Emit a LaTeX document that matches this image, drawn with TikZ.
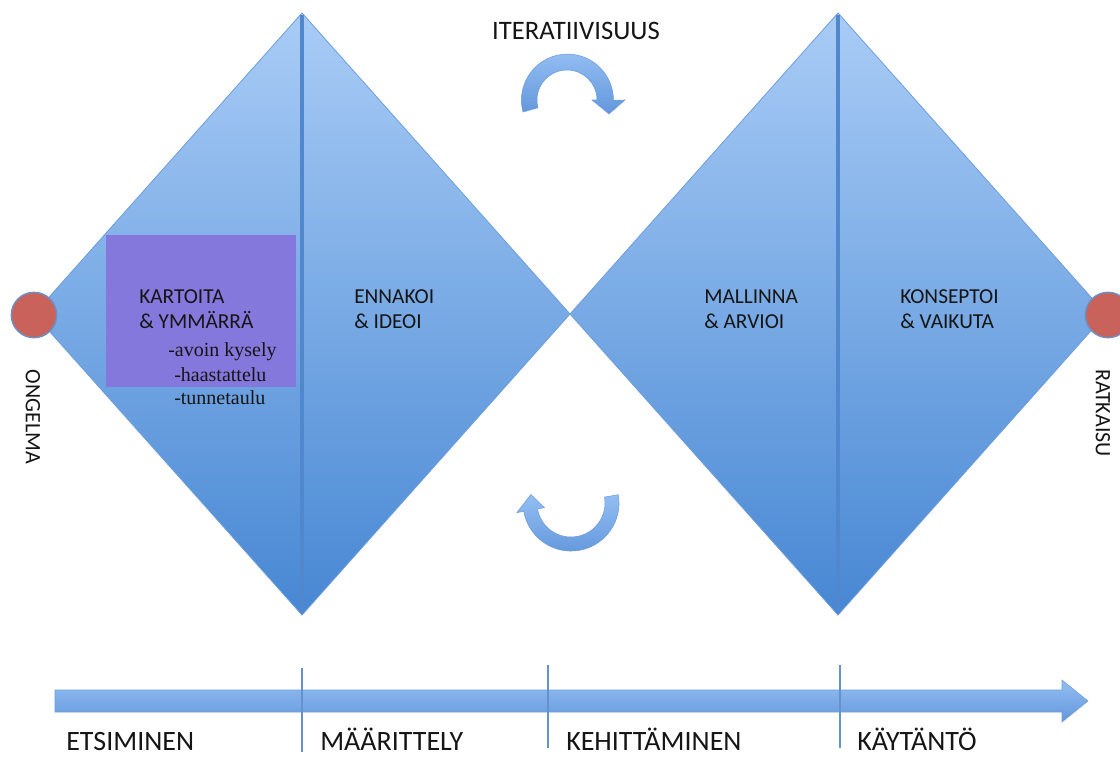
\documentclass[tikz,border=0pt]{standalone}
\usepackage{fontspec}
\setmainfont{Carlito}
\newfontfamily\listfont{Liberation Serif}
\definecolor{dtop}{HTML}{A9CCF6}
\definecolor{dbot}{HTML}{4787D3}
\definecolor{dedge}{HTML}{6E9EDB}
\definecolor{divider}{HTML}{5188CD}
\definecolor{purplebox}{HTML}{8478DC}
\definecolor{dotred}{HTML}{C8625A}
\definecolor{dotedge}{HTML}{6D8FC4}
\definecolor{atop}{HTML}{93BEF2}
\definecolor{abot}{HTML}{6397DC}
\definecolor{tickc}{HTML}{6592CD}
\definecolor{ink}{HTML}{151515}
\tikzset{
  diamondfill/.style={top color=dtop, bottom color=dbot, draw=dedge, line width=0.6pt},
  divline/.style={draw=divider, line width=2.3pt},
  dot/.style={circle, fill=dotred, draw=dotedge, line width=1.1pt, minimum size=34pt, inner sep=0pt},
  phase/.style={anchor=west, align=left, inner sep=0pt, text=ink, font=\fontsize{16}{18.75}\selectfont},
  listitem/.style={anchor=west, inner sep=0pt, text=ink, font=\listfont\fontsize{15}{18}\selectfont},
  sidelabel/.style={rotate=-90, inner sep=0pt, text=ink, font=\fontsize{16.5}{19}\selectfont},
  timelabel/.style={anchor=base west, inner sep=0pt, text=ink, font=\fontsize{21}{24}\selectfont},
  arrowshape/.style={top color=atop, bottom color=abot, draw=dedge, line width=0.4pt},
  tickline/.style={draw=tickc, line width=1.6pt}
}
\begin{document}
\begin{tikzpicture}[x=0.75pt,y=-0.75pt]
\useasboundingbox (0,0) rectangle (1120,758);
% diamonds
\path[diamondfill] (34,314) -- (302,13) -- (570,314) -- (302,615) -- cycle;
\path[diamondfill] (570,314) -- (838,13) -- (1106,314) -- (838,615) -- cycle;
\draw[divline] (302,15) -- (302,613);
\draw[divline] (838,15) -- (838,613);
% purple box
\fill[purplebox] (106,235) rectangle (296,387);
% end dots
\node[dot] (ongelmadot) at (34,315) {};
\node[dot] (ratkaisudot) at (1108,315) {};
\node[sidelabel] (ongelma) at (33,417) {ONGELMA};
\node[sidelabel] (ratkaisu) at (1103,413) {RATKAISU};
% phase labels
\node[phase] (kartoita) at (139,309.5) {KARTOITA\\\& YMMÄRRÄ};
\node[phase] (ennakoi) at (354,309.5) {ENNAKOI\\\& IDEOI};
\node[phase] (mallinna) at (704,309.5) {MALLINNA\\\& ARVIOI};
\node[phase] (konseptoi) at (900,309.5) {KONSEPTOI\\\& VAIKUTA};
\node[listitem] (kysely) at (168,352) {-avoin kysely};
\node[listitem] (haastattelu) at (174,375) {-haastattelu};
\node[listitem] (tunnetaulu) at (174,398) {-tunnetaulu};
% title
\node[inner sep=0pt, text=ink, font=\fontsize{20}{24}\selectfont] (iter) at (576,31) {ITERATIIVISUUS};
% curved arrows
\path[arrowshape] (523,112) arc[start angle=165, end angle=360, radius=46]
  -- (625,100) -- (609,114) -- (592,100) -- (597,100)
  arc[start angle=360, end angle=165, radius=30] -- cycle;
\path[arrowshape] (618.3,494.7) arc[start angle=-10, end angle=170, radius=48]
  -- (516.8,512.6) -- (530.9,494.5) -- (544.4,507.7) -- (537.5,508.9)
  arc[start angle=170, end angle=-10, radius=34] -- cycle;
% timeline
\path[arrowshape] (55,690) -- (1062,690) -- (1062,680) -- (1088,701) -- (1062,722) -- (1062,712) -- (55,712) -- cycle;
\coordinate (t1a) at (302,668); \coordinate (t1b) at (302,752);
\coordinate (t2a) at (548,665); \coordinate (t2b) at (548,748);
\coordinate (t3a) at (840,665); \coordinate (t3b) at (840,748);
\draw[tickline] (t1a) -- (t1b);
\draw[tickline] (t2a) -- (t2b);
\draw[tickline] (t3a) -- (t3b);
\node[timelabel] (etsiminen) at (66,750) {ETSIMINEN};
\node[timelabel] (maarittely) at (320,750) {MÄÄRITTELY};
\node[timelabel] (kehittaminen) at (566,750) {KEHITTÄMINEN};
\node[timelabel] (kaytanto) at (857,750) {KÄYTÄNTÖ};
\end{tikzpicture}
\end{document}
